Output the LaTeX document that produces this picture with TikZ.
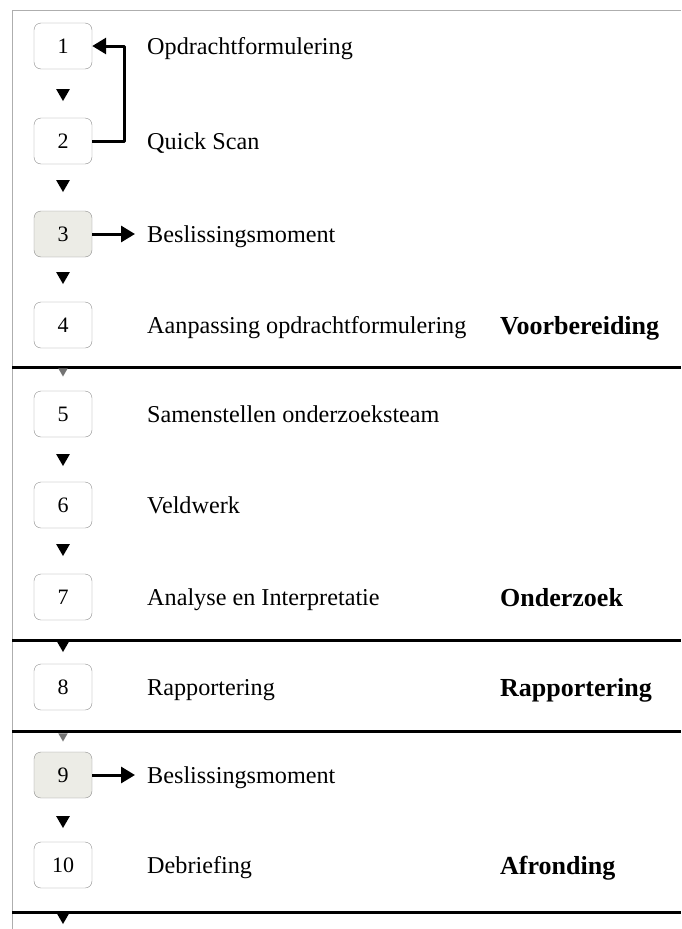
\documentclass[tikz,border=0pt]{standalone}
\usepackage{fontspec}
\setmainfont{Liberation Serif}
\usetikzlibrary{arrows.meta,shapes.geometric}
\definecolor{kader}{RGB}{140,140,140}
\definecolor{stipgrijs}{RGB}{236,236,230}

\begin{document}
\begin{tikzpicture}[x=1pt, y=-1pt, line join = round,
    stap/.style = {draw=kader, rounded corners=7pt, minimum width=58pt, minimum height=46pt, inner sep=0pt, font=\fontsize{22}{26}\selectfont},
    tekst/.style = {anchor=base west, inner sep=0pt, font=\fontsize{24.2}{28}\selectfont},
    fase/.style = {anchor=base west, inner sep=0pt, font=\fontsize{26}{30}\selectfont\bfseries},
    pijl/.style = {regular polygon, regular polygon sides=3, shape border rotate=180, fill=black, inner sep=0pt, minimum size=16pt},
    pijlvaag/.style = {pijl, fill=black!55, minimum size=11pt},
    flow/.style = {line width=3pt, -{Triangle[length=14pt,width=16pt]}},
    scheiding/.style = {line width=3pt}]
\useasboundingbox (0,0) rectangle (681,929);

\draw[kader!70, thin] (12,10) -- (681,10);
\draw[kader!70, thin] (12,10) -- (12,929);

\foreach \n/\y/\f/\lbl in {1/46/white/Opdrachtformulering, 2/141/white/Quick Scan, 3/234/stipgrijs/Beslissingsmoment, 4/325/white/Aanpassing opdrachtformulering, 5/414/white/Samenstellen onderzoeksteam, 6/505/white/Veldwerk, 7/597/white/Analyse en Interpretatie, 8/687/white/Rapportering, 9/775/stipgrijs/Beslissingsmoment, 10/865/white/Debriefing}
{
    \node[stap, fill=\f] (b\n) at (63,\y) {\n};
    \node[tekst] (t\n) at (147,\y+8) {\lbl};
}

\node[fase] (f1) at (500,334) {Voorbereiding};
\node[fase] (f2) at (500,606) {Onderzoek};
\node[fase] (f3) at (500,696) {Rapportering};
\node[fase] (f4) at (500,874) {Afronding};

\foreach \y in {367,640,731,912}
    \draw[scheiding] (12,\y) -- (681,\y);

\foreach \i/\y in {1/93,2/184,3/276,5/458,6/548,7/644,9/820,10/916}
    \node[pijl] (p\i) at (63,\y) {};
\foreach \i/\y in {4/371,8/736}
    \node[pijlvaag] (p\i) at (63,\y) {};

\draw[flow] (b2.east) -- ++(32,0) |- (b1.east);
\draw[flow, shorten >=12pt] (b3.east) -- (b3.east -| t3.west);
\draw[flow, shorten >=12pt] (b9.east) -- (b9.east -| t9.west);

\end{tikzpicture}
\end{document}
